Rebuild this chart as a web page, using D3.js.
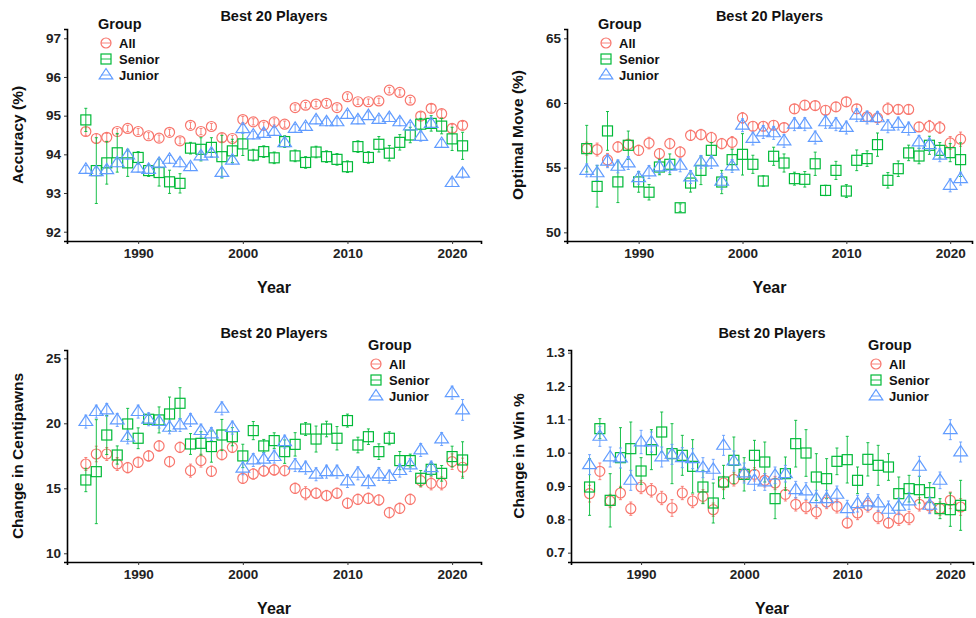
<!DOCTYPE html>
<html>
<head>
<meta charset="utf-8">
<script src="https://cdn.jsdelivr.net/npm/d3@7"></script>
<style>
    body { margin: 0; background: #fff; }
    svg { font-family: "Liberation Sans", Arial, sans-serif; }
    .tick text { font-weight: bold; font-size: 13.5px; fill: #222; }
</style>
</head>
<body>
<div id="chart"></div>
<script>
// years 1985 - 2021
const years = d3.range(1985, 2022);
const groups = ["All", "Senior", "Junior"];

// Accuracy (%)
const accAll = [94.59, 94.41, 94.44, 94.59, 94.67, 94.59, 94.48, 94.42, 94.57, 94.35, 94.75, 94.59, 94.72, 94.43, 94.41, 94.9, 94.84, 94.75, 94.84, 94.78, 95.21, 95.27, 95.3, 95.32, 95.21, 95.49, 95.36, 95.36, 95.38, 95.66, 95.6, 95.4, 94.99, 95.19, 95.05, 94.67, 94.75];
const accSenior = [94.89, 93.58, 93.78, 94.04, 93.78, 93.92, 93.58, 93.53, 93.29, 93.25, 94.16, 94.13, 94.18, 93.94, 94.09, 94.27, 93.98, 94.07, 93.91, 94.33, 93.96, 93.79, 94.06, 93.94, 93.87, 93.68, 94.2, 93.92, 94.26, 94.03, 94.31, 94.5, 94.78, 94.8, 94.73, 94.4, 94.22];
const accJunior = [93.61, 93.55, 93.6, 93.78, 93.98, 93.64, 93.61, 93.77, 93.87, 93.78, 93.68, 93.96, 94.03, 93.53, 93.85, 94.66, 94.5, 94.54, 94.59, 94.3, 94.67, 94.72, 94.89, 94.84, 94.84, 95.03, 94.89, 95.0, 94.9, 94.95, 94.84, 94.73, 94.46, 94.8, 94.28, 93.27, 93.51];
const accAllErr = [0.1, 0.12, 0.1, 0.08, 0.08, 0.08, 0.08, 0.08, 0.08, 0.08, 0.08, 0.08, 0.08, 0.1, 0.08, 0.08, 0.08, 0.08, 0.08, 0.08, 0.07, 0.07, 0.07, 0.07, 0.07, 0.07, 0.07, 0.07, 0.07, 0.07, 0.07, 0.07, 0.1, 0.1, 0.1, 0.1, 0.1];
const accSeniorErr = [0.3, 0.85, 0.55, 0.5, 0.35, 0.15, 0.15, 0.35, 0.3, 0.25, 0.15, 0.3, 0.25, 0.55, 0.3, 0.3, 0.15, 0.15, 0.15, 0.15, 0.15, 0.15, 0.15, 0.15, 0.15, 0.15, 0.15, 0.15, 0.2, 0.2, 0.2, 0.2, 0.15, 0.2, 0.2, 0.3, 0.35];
const accJuniorErr = [0.1, 0.1, 0.1, 0.1, 0.1, 0.1, 0.1, 0.1, 0.1, 0.1, 0.1, 0.1, 0.1, 0.12, 0.1, 0.12, 0.1, 0.1, 0.1, 0.1, 0.1, 0.1, 0.1, 0.1, 0.1, 0.1, 0.1, 0.1, 0.1, 0.1, 0.1, 0.1, 0.12, 0.1, 0.1, 0.1, 0.12];

// Optimal Move (%)
const optAll = [56.47, 56.4, 55.6, 56.6, 56.8, 56.34, 56.9, 56.08, 56.86, 56.21, 57.5, 57.56, 57.33, 56.86, 56.96, 58.85, 58.2, 58.2, 58.28, 58.1, 59.55, 59.83, 59.8, 59.44, 59.7, 60.09, 59.55, 58.93, 58.85, 59.55, 59.5, 59.5, 58.15, 58.2, 58.1, 56.91, 57.2];
const optSenior = [56.47, 53.55, 57.84, 53.9, 56.73, 53.9, 53.1, 55.05, 55.26, 51.9, 53.81, 54.79, 56.34, 53.89, 55.62, 56.03, 55.26, 53.97, 55.88, 55.36, 54.15, 54.1, 55.3, 53.24, 54.79, 53.19, 55.57, 55.7, 56.78, 54.02, 54.92, 56.14, 55.9, 56.73, 56.34, 56.16, 55.62];
const optJunior = [54.79, 54.6, 55.5, 55.1, 55.36, 54.22, 54.66, 55.05, 55.1, 55.18, 54.28, 55.44, 55.44, 53.94, 55.13, 58.28, 57.25, 57.76, 57.69, 57.07, 58.36, 58.36, 57.33, 58.54, 58.36, 58.1, 59.06, 58.88, 58.85, 58.2, 58.41, 58.02, 56.99, 56.78, 55.96, 53.63, 54.15];
const optAllErr = [0.5, 0.5, 0.5, 0.4, 0.4, 0.4, 0.45, 0.4, 0.4, 0.4, 0.4, 0.4, 0.4, 0.4, 0.45, 0.4, 0.35, 0.35, 0.35, 0.35, 0.35, 0.35, 0.35, 0.35, 0.35, 0.35, 0.35, 0.35, 0.35, 0.45, 0.35, 0.35, 0.35, 0.45, 0.45, 0.5, 0.55];
const optSeniorErr = [1.8, 1.6, 1.5, 1.6, 1.1, 0.8, 0.6, 0.6, 0.8, 0.3, 0.7, 1.1, 0.6, 0.9, 0.8, 1.6, 0.7, 0.4, 0.7, 0.7, 0.5, 0.6, 0.9, 0.4, 0.7, 0.5, 0.8, 0.6, 0.9, 0.6, 0.6, 0.6, 0.6, 0.7, 0.6, 0.7, 1.3];
const optJuniorErr = [0.5, 0.6, 0.5, 0.5, 0.5, 0.5, 0.5, 0.5, 0.5, 0.5, 0.5, 0.5, 0.5, 0.6, 0.5, 0.5, 0.5, 0.5, 0.5, 0.5, 0.5, 0.5, 0.5, 0.5, 0.5, 0.5, 0.5, 0.5, 0.5, 0.5, 0.5, 0.5, 0.5, 0.5, 0.5, 0.5, 0.5];

// Change in Centipawns
const cpAll = [16.87, 17.64, 17.64, 16.87, 16.59, 17.0, 17.49, 18.26, 17.05, 18.15, 16.36, 17.13, 16.31, 17.59, 18.15, 15.77, 16.1, 16.33, 16.41, 16.36, 15.0, 14.62, 14.62, 14.44, 14.62, 13.85, 14.15, 14.23, 14.1, 13.13, 13.46, 14.15, 15.59, 15.38, 15.38, 17.05, 16.62];
const cpSenior = [15.64, 16.28, 19.1, 17.56, 19.95, 18.85, 20.31, 20.26, 20.72, 21.54, 18.41, 18.46, 18.21, 19.1, 18.97, 17.49, 19.44, 18.26, 18.67, 17.82, 18.38, 19.56, 18.79, 19.56, 18.85, 20.21, 18.33, 18.97, 17.82, 18.85, 17.13, 17.13, 15.77, 16.46, 16.15, 17.44, 17.18];
const cpJunior = [20.13, 20.9, 21.03, 20.26, 18.92, 20.9, 20.31, 20.13, 19.69, 19.87, 20.26, 19.44, 19.18, 21.15, 19.67, 16.54, 17.18, 17.23, 17.44, 18.59, 16.79, 16.59, 16.08, 16.28, 16.28, 15.56, 16.15, 15.51, 16.1, 15.9, 16.36, 16.79, 17.95, 16.59, 18.79, 22.36, 21.03];
const cpAllErr = [0.5, 0.6, 0.5, 0.5, 0.4, 0.4, 0.4, 0.4, 0.4, 0.4, 0.5, 0.5, 0.4, 0.4, 0.4, 0.4, 0.4, 0.4, 0.4, 0.4, 0.4, 0.5, 0.4, 0.4, 0.4, 0.4, 0.4, 0.4, 0.4, 0.4, 0.4, 0.4, 0.5, 0.5, 0.5, 0.6, 0.7];
const cpSeniorErr = [0.9, 4.0, 1.5, 0.7, 1.2, 0.8, 0.3, 1.0, 1.3, 1.2, 0.8, 0.9, 1.2, 1.2, 0.7, 0.9, 0.7, 0.5, 0.6, 0.9, 0.9, 0.5, 1.0, 0.6, 0.9, 0.5, 0.6, 0.6, 0.6, 0.5, 0.7, 0.5, 0.6, 0.5, 0.6, 0.8, 1.4];
const cpJuniorErr = [0.5, 0.5, 0.5, 0.5, 0.5, 0.5, 0.5, 0.5, 0.5, 0.5, 0.5, 0.5, 0.5, 0.5, 0.5, 0.5, 0.5, 0.5, 0.5, 0.5, 0.5, 0.5, 0.5, 0.5, 0.5, 0.5, 0.5, 0.5, 0.5, 0.5, 0.5, 0.5, 0.5, 0.5, 0.5, 0.5, 0.8];

// Change in Win %
const winAll = [0.877, 0.944, 0.855, 0.879, 0.832, 0.897, 0.887, 0.864, 0.834, 0.879, 0.855, 0.869, 0.829, 0.909, 0.92, 0.935, 0.935, 0.917, 0.909, 0.875, 0.845, 0.837, 0.822, 0.852, 0.839, 0.789, 0.819, 0.842, 0.807, 0.789, 0.802, 0.804, 0.845, 0.84, 0.832, 0.857, 0.837];
const winSenior = [0.897, 1.072, 0.857, 0.985, 1.012, 0.945, 1.009, 1.062, 0.997, 0.992, 0.959, 0.897, 0.849, 0.912, 0.977, 0.935, 0.992, 0.972, 0.862, 0.937, 1.027, 0.999, 0.927, 0.922, 0.974, 0.979, 0.917, 0.98, 0.962, 0.957, 0.877, 0.892, 0.889, 0.88, 0.832, 0.829, 0.842];
const winJunior = [0.964, 1.049, 0.987, 0.984, 0.917, 1.032, 1.032, 0.987, 0.995, 0.985, 0.982, 0.955, 0.95, 1.022, 0.975, 0.939, 0.917, 0.912, 0.932, 0.937, 0.889, 0.885, 0.862, 0.862, 0.875, 0.832, 0.847, 0.852, 0.849, 0.83, 0.839, 0.855, 0.959, 0.842, 0.917, 1.069, 1.002];
const winAllErr = [0.025, 0.025, 0.02, 0.02, 0.02, 0.02, 0.02, 0.02, 0.025, 0.02, 0.02, 0.02, 0.02, 0.02, 0.02, 0.02, 0.02, 0.02, 0.02, 0.02, 0.02, 0.02, 0.02, 0.02, 0.02, 0.015, 0.02, 0.02, 0.02, 0.015, 0.02, 0.02, 0.02, 0.02, 0.02, 0.025, 0.025];
const winSeniorErr = [0.085, 0.03, 0.08, 0.09, 0.08, 0.04, 0.06, 0.06, 0.09, 0.06, 0.08, 0.05, 0.06, 0.05, 0.07, 0.05, 0.045, 0.06, 0.06, 0.05, 0.07, 0.07, 0.07, 0.06, 0.04, 0.07, 0.04, 0.05, 0.06, 0.04, 0.05, 0.04, 0.04, 0.03, 0.03, 0.05, 0.075];
const winJuniorErr = [0.03, 0.03, 0.03, 0.03, 0.03, 0.035, 0.03, 0.03, 0.03, 0.03, 0.03, 0.03, 0.03, 0.03, 0.03, 0.03, 0.03, 0.025, 0.025, 0.025, 0.025, 0.025, 0.025, 0.025, 0.025, 0.025, 0.025, 0.025, 0.025, 0.025, 0.025, 0.025, 0.03, 0.025, 0.025, 0.03, 0.03];

const colors = {All: "#F8766D", Senior: "#00BA38", Junior: "#619CFF"};

const width = 976, height = 618;
const svg = d3.select("#chart").append("svg")
    .attr("width", width).attr("height", height);

const panels = [
    {left: 67, top: 29, right: 481, bottom: 241, x: [1983.2, 2022.76], y: [91.76, 97.24], titleY: 21,
        yTicks: [92, 93, 94, 95, 96, 97], fmt: d3.format("d"), label: "Accuracy (%)", labelX: 18,
        series: [accAll, accSenior, accJunior], errs: [accAllErr, accSeniorErr, accJuniorErr],
        legend: {x: 98, y: 24}},
    {left: 567, top: 29, right: 972, bottom: 241, x: [1983.1, 2022.1], y: [49.33, 65.72], titleY: 21,
        yTicks: [50, 55, 60, 65], fmt: d3.format("d"), label: "Optimal Move (%)", labelX: 518,
        series: [optAll, optSenior, optJunior], errs: [optAllErr, optSeniorErr, optJuniorErr],
        legend: {x: 598, y: 24}},
    {left: 67, top: 350, right: 481, bottom: 562, x: [1983.2, 2022.76], y: [9.33, 25.64], titleY: 338,
        yTicks: [10, 15, 20, 25], fmt: d3.format("d"), label: "Change in Centipawns", labelX: 18,
        series: [cpAll, cpSenior, cpJunior], errs: [cpAllErr, cpSeniorErr, cpJuniorErr],
        legend: {x: 368, y: 345}},
    {left: 571, top: 350, right: 973, bottom: 562, x: [1983.2, 2022.2], y: [0.672, 1.308], titleY: 338,
        yTicks: [0.7, 0.8, 0.9, 1.0, 1.1, 1.2, 1.3], fmt: d3.format(".1f"), label: "Change in Win %", labelX: 519,
        series: [winAll, winSenior, winJunior], errs: [winAllErr, winSeniorErr, winJuniorErr],
        legend: {x: 868, y: 345}}
];

function drawShape(g, group, cx, cy, color) {
    if (group === "All") {
        g.append("circle").attr("cx", cx).attr("cy", cy).attr("r", 5)
            .attr("fill", "none").attr("stroke", color).attr("stroke-width", 1.2);
    } else if (group === "Senior") {
        g.append("rect").attr("x", cx - 5).attr("y", cy - 5).attr("width", 10).attr("height", 10)
            .attr("fill", "none").attr("stroke", color).attr("stroke-width", 1.2);
    } else {
        let s = 6.5;
        g.append("path")
            .attr("d", "M" + cx + "," + (cy - s) + "L" + (cx + s * 1.05) + "," + (cy + s * 0.6) + "L" + (cx - s * 1.05) + "," + (cy + s * 0.6) + "Z")
            .attr("fill", "none").attr("stroke", color).attr("stroke-width", 1.2);
    }
}

panels.forEach(function (p) {
    let x = d3.scaleLinear().domain(p.x).range([p.left, p.right]);
    let y = d3.scaleLinear().domain(p.y).range([p.bottom, p.top]);
    let g = svg.append("g");

    // axes
    let xAxis = g.append("g").attr("transform", "translate(0," + p.bottom + ")")
        .call(d3.axisBottom(x).tickValues([1990, 2000, 2010, 2020]).tickFormat(d3.format("d")).tickSize(3).tickPadding(4));
    let yAxis = g.append("g").attr("transform", "translate(" + p.left + ",0)")
        .call(d3.axisLeft(y).tickValues(p.yTicks).tickFormat(p.fmt).tickSize(3).tickPadding(3));
    [xAxis, yAxis].forEach(function (a) {
        a.select(".domain").attr("stroke", "#000").attr("stroke-width", 1.6);
        a.selectAll(".tick line").attr("stroke", "#333");
    });

    let cx = (p.left + p.right) / 2;
    g.append("text").attr("x", cx).attr("y", p.titleY).attr("text-anchor", "middle")
        .attr("font-weight", "bold").attr("font-size", 14.5).attr("fill", "#111").text("Best 20 Players");
    g.append("text").attr("x", cx).attr("y", p.bottom + 52).attr("text-anchor", "middle")
        .attr("font-weight", "bold").attr("font-size", 16).attr("fill", "#111").text("Year");
    g.append("text")
        .attr("transform", "translate(" + (p.labelX + 5) + "," + ((p.top + p.bottom) / 2) + ") rotate(-90)")
        .attr("text-anchor", "middle").attr("font-weight", "bold").attr("font-size", 15.5).attr("fill", "#111")
        .text(p.label);

    // error bars and points
    groups.forEach(function (grp, gi) {
        let vals = p.series[gi], errs = p.errs[gi], color = colors[grp];
        let sg = g.append("g");
        years.forEach(function (yr, i) {
            let px = x(yr);
            let y0 = y(vals[i] - errs[i]), y1 = y(vals[i] + errs[i]);
            sg.append("line").attr("x1", px).attr("x2", px).attr("y1", y0).attr("y2", y1)
                .attr("stroke", color).attr("stroke-width", 0.9);
            [y0, y1].forEach(function (yy) {
                sg.append("line").attr("x1", px - 1.5).attr("x2", px + 1.5).attr("y1", yy).attr("y2", yy)
                    .attr("stroke", color).attr("stroke-width", 0.9);
            });
            drawShape(sg, grp, px, y(vals[i]), color);
        });
    });

    // legend
    let lg = g.append("g").attr("transform", "translate(" + p.legend.x + "," + p.legend.y + ")");
    lg.append("text").attr("x", 0).attr("y", 5).attr("font-weight", "bold").attr("font-size", 14.5)
        .attr("fill", "#111").text("Group");
    groups.forEach(function (grp, gi) {
        let ry = 19 + gi * 16;
        drawShape(lg, grp, 8, ry, colors[grp]);
        lg.append("line").attr("x1", 3).attr("x2", 13).attr("y1", ry).attr("y2", ry)
            .attr("stroke", colors[grp]).attr("stroke-width", 0.9);
        lg.append("text").attr("x", 21).attr("y", ry + 4.5).attr("font-weight", "bold").attr("font-size", 13)
            .attr("fill", "#111").text(grp);
    });
});
</script>
</body>
</html>
